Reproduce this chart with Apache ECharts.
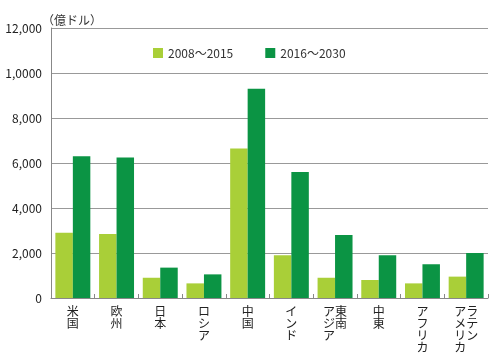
<!DOCTYPE html>
<html>
<head>
<meta charset="utf-8">
<script src="https://cdn.jsdelivr.net/npm/echarts@6/dist/echarts.min.js"></script>
<style>
html,body{margin:0;padding:0;background:#fff;}
#c{width:500px;height:363px;}
</style>
</head>
<body>
<div id="c"></div>
<script>
var categories = ['米国','欧州','日本','ロシア','中国','インド','東南アジア','中東','アフリカ','ラテンアメリカ'];
var seriesNames = ['2008～2015','2016～2030'];
var values2008 = [2900, 2850, 900, 650, 6650, 1900, 900, 800, 650, 950];
var values2016 = [6300, 6250, 1350, 1050, 9300, 5600, 2800, 1900, 1500, 2000];
var yTickLabels = ['0','2,000','4,000','6,000','8,000','1,0000','12,000'];
var unitLabel = '（億ドル）';
// vertical two-column labels: [left column, right column]
var labelColumns = {'東南アジア':['アジア','東南'], 'ラテンアメリカ':['アメリカ','ラテン']};

var FONT = '"Noto Sans CJK JP", "Noto Sans", sans-serif';
var chart = echarts.init(document.getElementById('c'), null, {renderer:'canvas'});

function verticalLabel(v){
  var cols = labelColumns[v];
  if (!cols) {
    return v.split('').map(function(ch){ return '{c|' + ch + '}'; }).join('\n');
  }
  var left = cols[0].split(''), right = cols[1].split('');
  var n = Math.max(left.length, right.length), rows = [];
  for (var i = 0; i < n; i++) {
    rows.push('{c|' + (left[i] || ' ') + '}{c|' + (right[i] || ' ') + '}');
  }
  return rows.join('\n');
}

chart.setOption({
  animation:false,
  textStyle:{fontFamily:FONT},
  title:{
    text:unitLabel, left:37, top:9,
    textStyle:{fontSize:12, fontWeight:'normal', color:'#333', fontFamily:FONT}
  },
  legend:{
    data:seriesNames, left:148, top:42, itemWidth:10, itemHeight:10, itemGap:32,
    icon:'rect',
    textStyle:{fontSize:12, color:'#333', fontFamily:FONT}
  },
  grid:{left:51, right:12, top:28, bottom:65, containLabel:false},
  xAxis:{
    type:'category', data:categories,
    axisLine:{show:true, lineStyle:{color:'#888', width:1}},
    axisTick:{show:true, inside:true, length:4, lineStyle:{color:'#888'}},
    axisLabel:{
      interval:0, margin:7, color:'#222', fontSize:12, lineHeight:12,
      formatter:verticalLabel,
      rich:{c:{fontSize:12, lineHeight:12, width:12, align:'center', color:'#222', fontFamily:FONT}}
    }
  },
  yAxis:{
    type:'value', min:0, max:12000, interval:2000,
    axisLine:{show:true, lineStyle:{color:'#888', width:1}},
    axisTick:{show:false},
    splitLine:{show:true, lineStyle:{color:'#999', width:1}},
    axisLabel:{
      margin:9, color:'#222', fontSize:12,
      formatter:function(v){ return yTickLabels[Math.round(v/2000)]; }
    }
  },
  series:[
    {name:seriesNames[0], type:'bar', data:values2008, barGap:'0%', barCategoryGap:'20%',
     itemStyle:{color:'#a9cf38'}},
    {name:seriesNames[1], type:'bar', data:values2016, barGap:'0%', barCategoryGap:'20%',
     itemStyle:{color:'#0b9444'}}
  ]
});
</script>
</body>
</html>
